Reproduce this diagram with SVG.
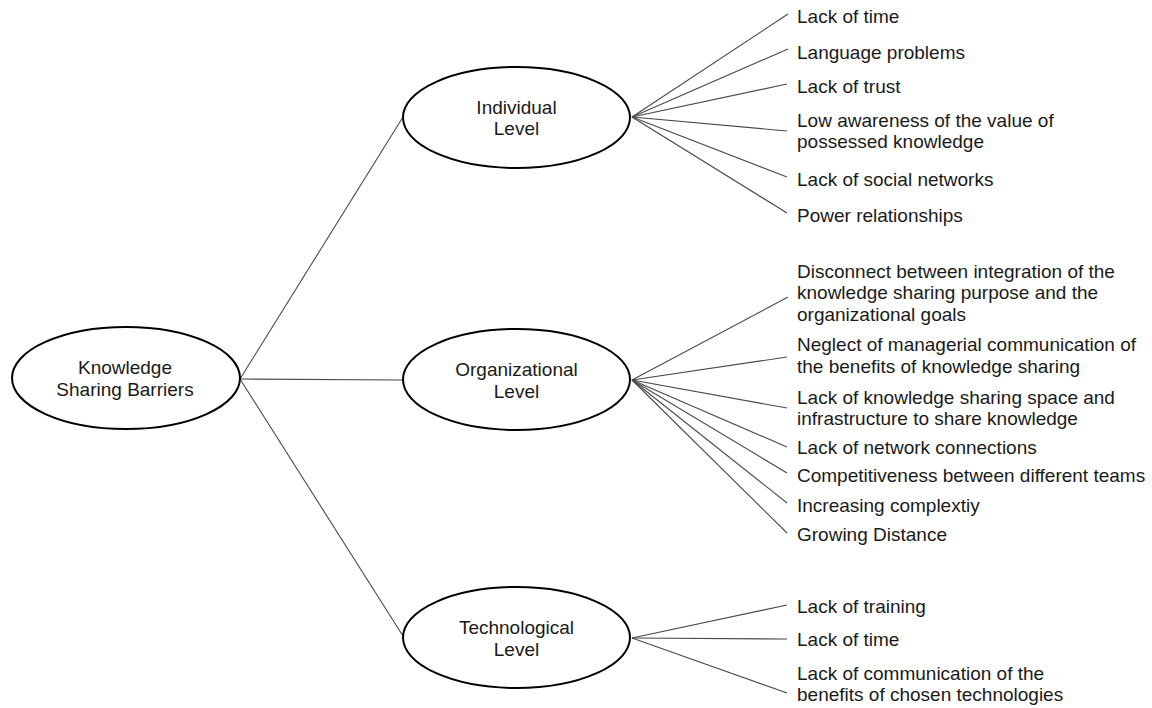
<svg xmlns="http://www.w3.org/2000/svg" width="1152" height="708" viewBox="0 0 1152 708">
<style>
.node ellipse{fill:#fff;stroke:#000;stroke-width:2}
.node text,.item{font-family:"Liberation Sans",Arial,sans-serif;font-size:19px;fill:#1a1a1a}
.node text{text-anchor:middle}
#connectors line{stroke:#4a4a4a;stroke-width:1.1}
</style>
<rect width="1152" height="708" fill="#fff"/>
<g id="connectors">
<line x1="240" y1="379" x2="403" y2="117"/>
<line x1="240" y1="379" x2="403" y2="380"/>
<line x1="240" y1="379" x2="403" y2="636"/>
<line x1="632" y1="117" x2="788" y2="14"/>
<line x1="632" y1="117" x2="788" y2="49"/>
<line x1="632" y1="117" x2="787" y2="84"/>
<line x1="632" y1="117" x2="787" y2="131"/>
<line x1="632" y1="117" x2="787" y2="177"/>
<line x1="632" y1="117" x2="787" y2="213"/>
<line x1="632" y1="380" x2="788" y2="297"/>
<line x1="632" y1="380" x2="787" y2="357"/>
<line x1="632" y1="380" x2="787" y2="408"/>
<line x1="632" y1="380" x2="787" y2="447"/>
<line x1="632" y1="380" x2="787" y2="473"/>
<line x1="632" y1="380" x2="787" y2="503"/>
<line x1="632" y1="380" x2="787" y2="533"/>
<line x1="632" y1="638" x2="787" y2="605"/>
<line x1="632" y1="638" x2="787" y2="639"/>
<line x1="632" y1="638" x2="787" y2="693"/>
</g>
<g id="root" class="node">
<ellipse cx="126" cy="378" rx="114" ry="51"/>
<text x="125" y="374">Knowledge</text>
<text x="125" y="396">Sharing Barriers</text>
</g>
<g id="individual" class="node">
<ellipse cx="516.5" cy="117.5" rx="113.5" ry="50.5"/>
<text x="516.5" y="114">Individual</text>
<text x="516.5" y="135">Level</text>
</g>
<g id="organizational" class="node">
<ellipse cx="516.5" cy="379.5" rx="113.5" ry="50.5"/>
<text x="516.5" y="376">Organizational</text>
<text x="516.5" y="398">Level</text>
</g>
<g id="technological" class="node">
<ellipse cx="516.5" cy="637.5" rx="113.5" ry="50.5"/>
<text x="516.5" y="634">Technological</text>
<text x="516.5" y="656">Level</text>
</g>
<g id="individual-items">
<text class="item" x="797" y="22.7">Lack of time</text>
<text class="item" x="797" y="59">Language problems</text>
<text class="item" x="797" y="93">Lack of trust</text>
<text class="item" x="797" y="126.5">Low awareness of the value of</text>
<text class="item" x="797" y="147.5">possessed knowledge</text>
<text class="item" x="797" y="186">Lack of social networks</text>
<text class="item" x="797" y="221.5">Power relationships</text>
</g>
<g id="organizational-items">
<text class="item" x="797" y="277.5">Disconnect between integration of the</text>
<text class="item" x="797" y="299">knowledge sharing purpose and the</text>
<text class="item" x="797" y="320.5">organizational goals</text>
<text class="item" x="797" y="351">Neglect of managerial communication of</text>
<text class="item" x="797" y="372.5">the benefits of knowledge sharing</text>
<text class="item" x="797" y="403.5">Lack of knowledge sharing space and</text>
<text class="item" x="797" y="425">infrastructure to share knowledge</text>
<text class="item" x="797" y="454">Lack of network connections</text>
<text class="item" x="797" y="481.5">Competitiveness between different teams</text>
<text class="item" x="797" y="511.5">Increasing complextiy</text>
<text class="item" x="797" y="540.5">Growing Distance</text>
</g>
<g id="technological-items">
<text class="item" x="797" y="613">Lack of training</text>
<text class="item" x="797" y="646">Lack of time</text>
<text class="item" x="797" y="680">Lack of communication of the</text>
<text class="item" x="797" y="701">benefits of chosen technologies</text>
</g>
</svg>
